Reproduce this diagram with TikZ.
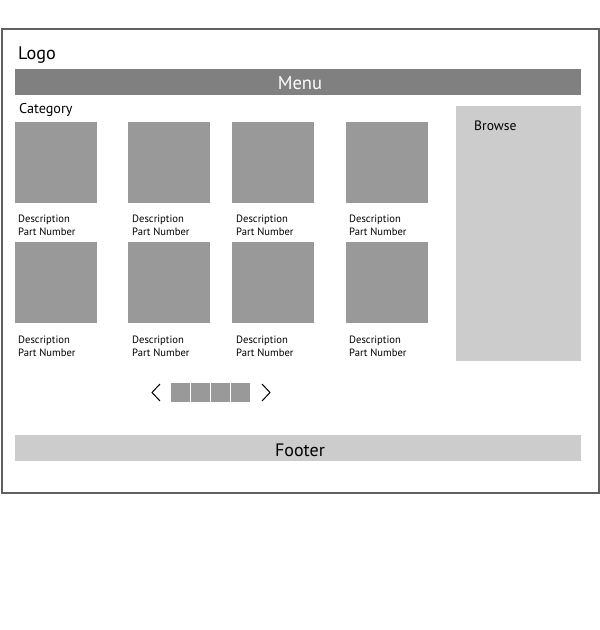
\documentclass[tikz,border=0pt]{standalone}
\usepackage{fontspec}
\setmainfont{PT Sans}
\begin{document}
\begin{tikzpicture}[x=1pt,y=-1pt,
  frame/.style={draw=black!62,line width=2pt},
  thumb/.style={fill=black!40},
  bar/.style={fill=black!50},
  lightbar/.style={fill=black!20},
  txt/.style={inner sep=0pt,anchor=base west,text=black},
  small/.style={txt,font=\fontsize{10.6}{12}\selectfont},
  big/.style={inner sep=0pt,anchor=base,font=\fontsize{18}{20}\selectfont}]
\useasboundingbox (0,0) rectangle (600,630);
\fill[white] (0,0) rectangle (600,630);
\draw[frame] (1.5,28.5) rectangle (598.5,492.5);
\node[txt,font=\fontsize{18.2}{20}\selectfont] (logo) at (18,59.5) {Logo};
\fill[bar] (15,69) rectangle (581,95);
\node[big,text=white,font=\fontsize{18.6}{20}\selectfont] (menu) at (300,89) {Menu};
\node[txt,font=\fontsize{14.2}{16}\selectfont] (cat) at (19,113.5) {Category};
\foreach \x/\t [count=\i] in {15/18,128/132,232/236,346/349}{
  \fill[thumb] (\x,122) rectangle +(82,81);
  \node[small] (d1\i) at (\t,222.5) {Description};
  \node[small] (p1\i) at (\t,235.5) {Part Number};
  \fill[thumb] (\x,242) rectangle +(82,81);
  \node[small] (d2\i) at (\t,343.5) {Description};
  \node[small] (p2\i) at (\t,356.5) {Part Number};
}
\fill[lightbar] (456,106) rectangle (581,361);
\node[txt,font=\fontsize{13.6}{15}\selectfont] (browse) at (474,130) {Browse};
\draw[line width=1pt] (160,384) -- (152,392.5) -- (160,401);
\draw[line width=1pt] (262,384) -- (270,392.5) -- (262,401);
\foreach \x in {171,191,211,231}{\fill[thumb] (\x,383) rectangle +(19,19);}
\fill[lightbar] (15,435) rectangle (581,461);
\node[big] (footer) at (300,456) {Footer};
\end{tikzpicture}
\end{document}
